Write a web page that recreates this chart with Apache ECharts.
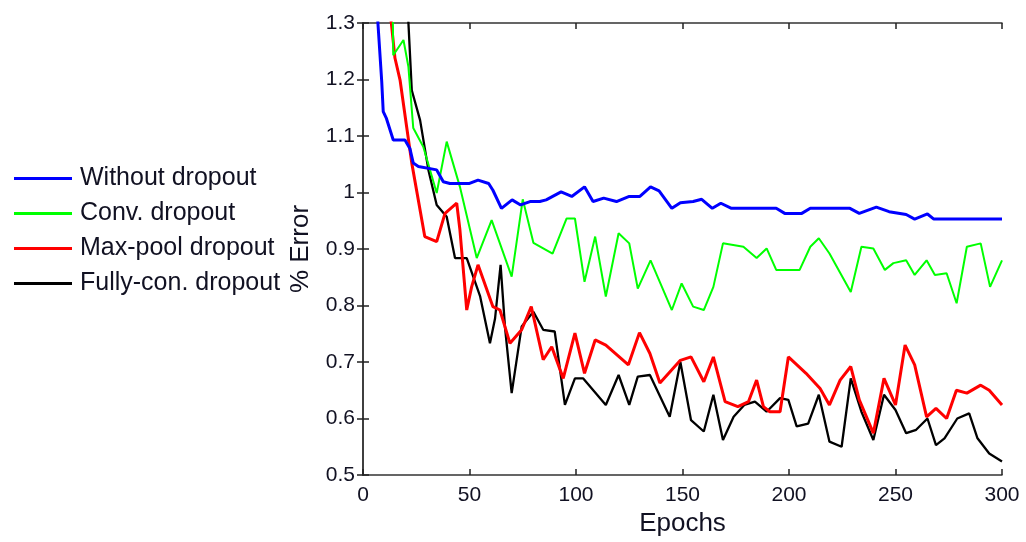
<!DOCTYPE html>
<html><head><meta charset="utf-8">
<script src="https://cdn.jsdelivr.net/npm/echarts@6/dist/echarts.min.js"></script>
<style>html,body{margin:0;padding:0;background:#fff}#c{width:1026px;height:542px}</style>
</head><body><div id="c"></div>
<script>
const seriesNames = ['Without dropout', 'Conv. dropout', 'Max-pool dropout', 'Fully-con. dropout'];
const xTicks = [0, 50, 100, 150, 200, 250, 300];

const noDropEpochs = [6, 7, 8.8, 9.5, 11, 14.2, 19.7, 22, 23.6, 26, 34.6, 37.7, 40.8, 50, 54, 59, 61, 65, 70, 74, 78.4, 83, 86, 93, 98, 104, 108, 113, 119, 125, 130, 135, 139, 145, 149, 155, 159, 164, 168, 173, 194, 198, 206, 210, 228.6, 233, 241, 247, 255, 259, 265, 268, 300];
const noDropValues = [1.38, 1.30, 1.196, 1.143, 1.131, 1.093, 1.093, 1.078, 1.052, 1.046, 1.040, 1.019, 1.016, 1.016, 1.022, 1.016, 1.004, 0.972, 0.987, 0.978, 0.984, 0.984, 0.987, 1.001, 0.993, 1.010, 0.984, 0.990, 0.984, 0.993, 0.993, 1.010, 1.003, 0.972, 0.982, 0.984, 0.988, 0.972, 0.981, 0.972, 0.972, 0.963, 0.963, 0.972, 0.972, 0.963, 0.974, 0.966, 0.961, 0.953, 0.962, 0.953, 0.953];

const convEpochs = [13.9, 14.2, 19, 21.3, 23.6, 28.3, 34.6, 39.3, 45.5, 53.4, 60.4, 69.8, 75, 80, 89, 95.6, 99.5, 104, 109, 114, 120, 125, 129, 135, 145, 149.6, 155, 160, 164.5, 169, 178.6, 184.8, 189.5, 194, 205, 210, 214, 219, 229, 234, 239.6, 245, 249, 255, 259, 264.6, 268.5, 274, 278.7, 283.5, 290, 294.4, 300];
const convValues = [1.34, 1.243, 1.27, 1.223, 1.114, 1.081, 0.999, 1.09, 1.010, 0.884, 0.951, 0.851, 0.988, 0.911, 0.892, 0.954, 0.954, 0.842, 0.922, 0.816, 0.928, 0.91, 0.83, 0.88, 0.792, 0.839, 0.798, 0.792, 0.833, 0.910, 0.904, 0.884, 0.901, 0.863, 0.863, 0.904, 0.919, 0.892, 0.824, 0.904, 0.901, 0.863, 0.875, 0.880, 0.854, 0.880, 0.854, 0.857, 0.804, 0.904, 0.910, 0.833, 0.880];

const maxPoolEpochs = [12.2, 15, 17.4, 20.5, 22.9, 29, 34.6, 38.5, 44, 45.5, 48.7, 51, 54, 61, 64.3, 69, 74.5, 79, 84.6, 88.6, 94, 99.5, 104, 109, 114, 124.6, 129.8, 134.7, 139.4, 149, 154, 160, 164.5, 170, 176, 181, 184.8, 188, 191, 195.8, 199.7, 208, 214.6, 219, 224, 229, 233, 239.6, 244.6, 250, 254.5, 259, 264.6, 269, 274, 278.6, 283.5, 290, 294, 300];
const maxPoolValues = [1.34, 1.238, 1.199, 1.116, 1.052, 0.922, 0.913, 0.963, 0.981, 0.934, 0.792, 0.833, 0.872, 0.798, 0.792, 0.733, 0.757, 0.798, 0.704, 0.727, 0.671, 0.751, 0.680, 0.739, 0.730, 0.695, 0.752, 0.715, 0.663, 0.703, 0.709, 0.665, 0.709, 0.630, 0.621, 0.630, 0.668, 0.621, 0.612, 0.612, 0.709, 0.680, 0.653, 0.624, 0.668, 0.692, 0.633, 0.574, 0.671, 0.624, 0.730, 0.695, 0.603, 0.618, 0.600, 0.650, 0.645, 0.659, 0.650, 0.624];

const fullyConEpochs = [20.8, 22.9, 26.8, 30.7, 34.6, 39.3, 43.2, 48.7, 55, 59.6, 62, 64.6, 66.7, 69.8, 74.5, 80, 84.6, 90, 94.8, 99.5, 103.4, 114, 120, 125, 129, 134.7, 144, 149, 154, 160, 164.5, 169, 174, 179, 184, 189.5, 195.8, 199.7, 203.6, 209, 214, 219, 224.7, 229, 234, 239.6, 244.6, 250, 255, 259.7, 265, 269, 273, 279, 284.6, 288.5, 294, 300];
const fullyConValues = [1.34, 1.181, 1.128, 1.040, 0.978, 0.957, 0.884, 0.884, 0.816, 0.733, 0.777, 0.872, 0.760, 0.645, 0.763, 0.789, 0.757, 0.754, 0.624, 0.671, 0.671, 0.624, 0.677, 0.624, 0.674, 0.677, 0.603, 0.700, 0.597, 0.577, 0.642, 0.562, 0.603, 0.624, 0.630, 0.612, 0.636, 0.633, 0.586, 0.591, 0.642, 0.559, 0.550, 0.671, 0.612, 0.562, 0.642, 0.615, 0.574, 0.580, 0.600, 0.553, 0.565, 0.600, 0.609, 0.565, 0.538, 0.524];

const zip = (xs, ys) => xs.map((x, i) => [x, ys[i]]);
const colors = ['#0000ff', '#00ff00', '#ff0000', '#000000'];
const widths = [3, 2, 3, 2.3];
const dataSets = [zip(noDropEpochs, noDropValues), zip(convEpochs, convValues), zip(maxPoolEpochs, maxPoolValues), zip(fullyConEpochs, fullyConValues)];

const FONT = 'Liberation Sans, Arial, sans-serif';
const TXT = '#111122';
const labelStyle = { color: TXT, fontSize: 21, fontFamily: FONT };
const axisLineStyle = { lineStyle: { color: '#333', width: 1.5 } };
const tickStyle = { inside: true, length: 6, lineStyle: { color: '#222', width: 1.5 } };

const chart = echarts.init(document.getElementById('c'));
chart.setOption({
  animation: false,
  backgroundColor: '#fff',
  grid: { left: 363, right: 24, top: 23, bottom: 67, containLabel: false },
  legend: {
    orient: 'vertical', left: 14, top: 166, padding: 0,
    itemWidth: 58, itemHeight: 3, itemGap: 10,
    icon: 'rect',
    textStyle: { color: TXT, fontSize: 25, lineHeight: 25, fontFamily: FONT, padding: [0, 0, 0, 3] },
    data: seriesNames
  },
  xAxis: [{
    type: 'value', min: 0, max: 300, interval: 50,
    name: 'Epochs', nameLocation: 'middle', nameGap: 36,
    nameTextStyle: { color: TXT, fontSize: 26, fontFamily: FONT },
    axisLine: axisLineStyle,
    axisTick: tickStyle,
    axisLabel: Object.assign({ margin: 10, formatter: v => xTicks.includes(v) ? String(v) : '' }, labelStyle),
    splitLine: { show: false }
  }, {
    type: 'value', min: 0, max: 300, interval: 50, position: 'top',
    axisLine: axisLineStyle,
    axisTick: tickStyle,
    axisLabel: { show: false }, splitLine: { show: false }
  }],
  yAxis: [{
    type: 'value', min: 0.5, max: 1.3, interval: 0.1,
    name: '% Error', nameLocation: 'middle', nameGap: 49,
    nameTextStyle: { color: TXT, fontSize: 26, fontFamily: FONT },
    axisLine: axisLineStyle,
    axisTick: tickStyle,
    axisLabel: Object.assign({ margin: 8, formatter: v => { const r = Math.round(v * 10) / 10; return r === 1 ? '1' : r.toFixed(1); } }, labelStyle),
    splitLine: { show: false }
  }, {
    type: 'value', min: 0.5, max: 1.3, interval: 0.1, position: 'right',
    axisLine: axisLineStyle,
    axisTick: tickStyle,
    axisLabel: { show: false }, splitLine: { show: false }
  }],
  series: seriesNames.map((n, i) => ({
    name: n, type: 'line', data: dataSets[i],
    xAxisIndex: 0, yAxisIndex: 0,
    showSymbol: false, symbol: 'none', clip: true,
    color: colors[i],
    lineStyle: { color: colors[i], width: widths[i] },
    z: 10 - i
  }))
});
</script></body></html>
